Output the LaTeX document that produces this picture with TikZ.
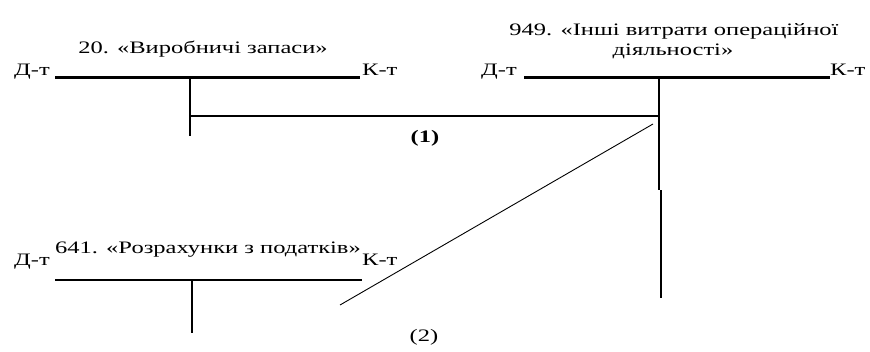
\documentclass[tikz,border=0pt]{standalone}
\usepackage{fontspec}
\setmainfont{Liberation Serif}[FakeStretch=1.4]
\usetikzlibrary{positioning}

\begin{document}
\begin{tikzpicture}[
    x=1pt, y=-1pt,
    boldacc/.style={line width=3pt},
    plainacc/.style={line width=1.5pt},
    post/.style={line width=1.5pt},
    diag/.style={line width=0.9pt},
    side/.style={font=\fontsize{17.5}{20}\selectfont, inner sep=0pt},
    ttl/.style={font=\fontsize{17.5}{20}\selectfont, inner sep=0pt, align=center},
    num/.style={font=\fontsize{17.5}{20}\selectfont, inner sep=0pt}
]
\useasboundingbox (0,0) rectangle (870,351);

% ---------- account 20 ----------
\coordinate (a20l) at (55,77);
\coordinate (a20r) at (360,77);
\coordinate (a20t) at (190,77);
\coordinate (a20b) at (190,136);
\coordinate (a20m) at (190,116);
\draw[boldacc] (a20l) -- (a20r);
\draw[post] (a20t) -- (a20b);
\node[side, anchor=base east] (d20) at (50,75) {Д-т};
\node[side, anchor=base west] (k20) at (362,75) {К-т};
\node[ttl, anchor=base] (t20) at (203,53) {20. «Виробничі запаси»};

% ---------- account 949 ----------
\coordinate (a949l) at (524,77);
\coordinate (a949r) at (830,77);
\coordinate (a949t) at (659,77);
\coordinate (a949m) at (659,116);
\coordinate (a949j) at (659,190);
\coordinate (a949k) at (661,190);
\coordinate (a949b) at (661,298);
\draw[boldacc] (a949l) -- (a949r);
\draw[post] (a949t) -- (a949j);
\draw[post] (a949k) -- (a949b);
\node[side, anchor=base east] (d949) at (517,75) {Д-т};
\node[side, anchor=base west] (k949) at (830,75) {К-т};
\node[ttl, anchor=base] (t949a) at (674,35) {949. «Інші витрати операційної};
\node[ttl, anchor=base] (t949b) at (673,55) {діяльності»};

% ---------- account 641 ----------
\coordinate (a641l) at (55,280);
\coordinate (a641r) at (362,280);
\coordinate (a641t) at (192,280);
\coordinate (a641b) at (192,333);
\draw[plainacc] (a641l) -- (a641r);
\draw[post] (a641t) -- (a641b);
\node[side, anchor=base east] (d641) at (50,265) {Д-т};
\node[side, anchor=base west] (k641) at (362,265) {К-т};
\node[ttl, anchor=base] (t641) at (208,253) {641. «Розрахунки з податків»};

% ---------- entries ----------
\draw[post] (a20m) -- (a949m);
\node[num] (e1) at (425,138) {\textbf{(1)}};
\coordinate (s2) at (340,305);
\coordinate (f2) at (653,124);
\draw[diag] (s2) -- (f2);
\node[num] (e2) at (424,337) {(2)};

\end{tikzpicture}
\end{document}
